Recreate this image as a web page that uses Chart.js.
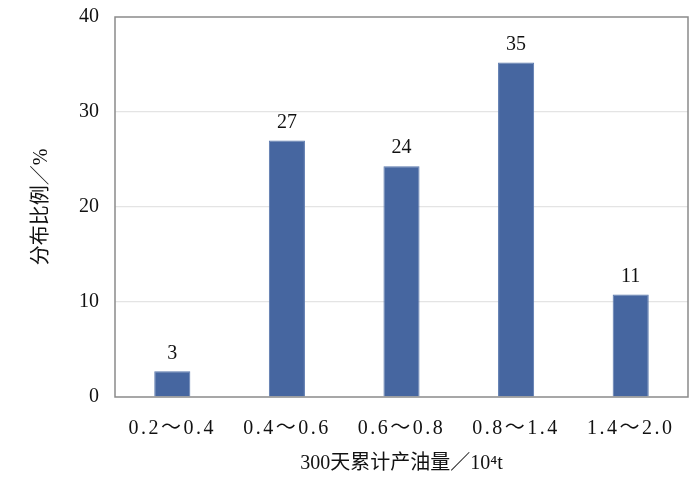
<!DOCTYPE html>
<html>
<head>
<meta charset="utf-8">
<script src="https://cdn.jsdelivr.net/npm/chart.js@4/dist/chart.umd.min.js"></script>
<style>
	html, body { margin: 0; padding: 0; background: #fff; }
	#wrap { width: 700px; height: 478px; }
</style>
</head>
<body>
<div id="wrap"><canvas id="bar-chart"></canvas></div>
<script>
// chart data
var categories = ['0.2～0.4', '0.4～0.6', '0.6～0.8', '0.8～1.4', '1.4～2.0'];
var shares = [2.7, 27.0, 24.3, 35.2, 10.8];
var shareLabels = ['3', '27', '24', '35', '11'];
var yTicks = [0, 10, 20, 30, 40];

var FONT = "'Liberation Serif', 'Times New Roman', 'Noto Sans CJK SC', serif";

// labels above the bars
var valueLabels = {
	id : 'valueLabels',
	afterDatasetsDraw : function(chart) {
		var ctx = chart.ctx;
		var bars = chart.getDatasetMeta(0).data;
		ctx.save();
		ctx.font = '20px ' + FONT;
		ctx.fillStyle = '#111';
		ctx.textAlign = 'center';
		ctx.textBaseline = 'bottom';
		for (var i = 0; i < bars.length; i++) {
			ctx.fillText(shareLabels[i], bars[i].x, bars[i].y - 8);
		}
		ctx.restore();
	}
};

// grey frame round the plot area
var plotFrame = {
	id : 'plotFrame',
	afterDraw : function(chart) {
		var a = chart.chartArea;
		var ctx = chart.ctx;
		ctx.save();
		ctx.strokeStyle = '#8a8a8a';
		ctx.lineWidth = 1.5;
		ctx.strokeRect(a.left, a.top, a.right - a.left, a.bottom - a.top);
		ctx.restore();
	}
};

// x tick labels are spaced out in the original
var spacedTicks = {
	id : 'spacedTicks',
	beforeDraw : function(chart) {
		var xs = chart.scales.x;
		if (xs._spacedPatched) return;
		var orig = xs.drawLabels;
		xs.drawLabels = function(area) {
			var ctx = this.ctx;
			ctx.save();
			ctx.letterSpacing = '2.5px';
			orig.call(this, area);
			ctx.restore();
		};
		xs._spacedPatched = true;
	}
};

var ctx1 = document.getElementById('bar-chart');

var chart1 = new Chart(ctx1, {
	type : 'bar',
	data : {
		labels : categories,
		datasets : [{
			data : shares,
			backgroundColor : '#4666a0',
			borderColor : '#5a78ad',
			borderWidth : 1,
			barPercentage : 0.315,
			categoryPercentage : 1
		}]
	},
	options : {
		responsive : true,
		maintainAspectRatio : false,
		animation : false,
		layout : {
			padding : { left : 20, top : 17, right : 12, bottom : 0 }
		},
		plugins : {
			legend : { display : false },
			tooltip : { enabled : false }
		},
		scales : {
			x : {
				grid : { display : false, drawTicks : false },
				border : { display : false },
				ticks : {
					color : '#111',
					font : { family : FONT, size : 20 },
					padding : 20,
					maxRotation : 0
				},
				title : {
					display : true,
					text : '300天累计产油量／10⁴t',
					color : '#111',
					font : { family : FONT, size : 20 },
					padding : { top : 4, bottom : 2 }
				},
				afterFit : function(scale) {
					scale.height = 81;
					scale.paddingLeft = 0;
					scale.paddingRight = 0;
				}
			},
			y : {
				min : 0,
				max : 40,
				afterBuildTicks : function(scale) {
					scale.ticks = yTicks.map(function(v) { return { value : v }; });
				},
				grid : {
					drawTicks : false,
					color : function(c) {
						if (c.tick && (c.tick.value === 0 || c.tick.value === 40)) return 'rgba(0,0,0,0)';
						return '#e4e4e4';
					},
					lineWidth : 1.2
				},
				border : { display : false },
				ticks : {
					color : '#111',
					font : { family : FONT, size : 20 },
					padding : 16
				},
				title : {
					display : true,
					text : '分布比例／%',
					color : '#111',
					font : { family : FONT, size : 20 },
					padding : { top : 10, bottom : 0 }
				},
				afterFit : function(scale) {
					scale.width = 95;
					scale.paddingTop = 0;
					scale.paddingBottom = 0;
				}
			}
		}
	},
	plugins : [valueLabels, plotFrame, spacedTicks]
});
</script>
</body>
</html>
